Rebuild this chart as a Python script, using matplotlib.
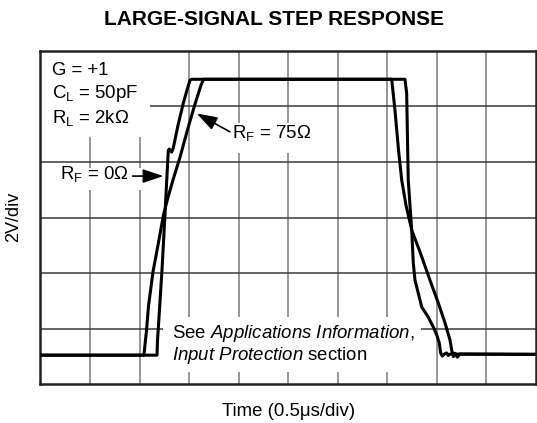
import matplotlib.pyplot as plt
from matplotlib.patches import Rectangle
import numpy as np

plt.rcParams['font.family'] = ['Liberation Sans', 'DejaVu Sans']
plt.rcParams['mathtext.fontset'] = 'custom'
plt.rcParams['mathtext.rm'] = 'Liberation Sans'
plt.rcParams['mathtext.it'] = 'Liberation Sans:italic'

# time in us, output in V (0.5us/div, 2V/div)
t_rf0 = [0.0, 1.176, 1.181, 1.189, 1.226, 1.256, 1.274, 1.290, 1.300, 1.324, 1.340,
         1.388, 1.441, 1.478, 1.509, 1.526, 3.678, 3.695, 3.711, 3.746, 3.762,
         3.779, 3.812, 3.847, 3.913, 3.964, 3.998, 4.024, 4.038, 4.055, 4.075,
         4.099, 4.115, 4.132, 5.0]
v_rf0 = [-4.95, -4.95, -4.40, -3.97, -1.89, 0.09, 1.35, 2.42, 2.46, 2.35, 2.50,
         3.32, 4.11, 4.58, 4.94, 4.97, 4.97, 4.47, 1.35, -0.45, -1.64,
         -2.25, -2.72, -3.22, -3.58, -3.94, -4.22, -4.51, -4.87, -4.98, -4.91,
         -4.87, -4.96, -4.91, -4.92]

t_rf75 = [0.0, 1.044, 1.070, 1.090, 1.135, 1.186, 1.241, 1.287, 1.337, 1.408,
          1.488, 1.559, 1.620, 1.645, 3.544, 3.577, 3.613, 3.645, 3.688, 3.746,
          3.830, 3.930, 4.014, 4.082, 4.132, 4.149, 4.166, 4.183, 4.206, 4.233, 5.0]
v_rf75 = [-4.95, -4.95, -4.05, -3.18, -1.96, -0.99, 0.09, 0.73, 1.35, 2.17,
          3.21, 4.08, 4.76, 4.97, 4.97, 3.86, 2.42, 1.35, 0.45, -0.45,
          -1.24, -2.25, -3.07, -3.79, -4.40, -4.76, -5.00, -4.88, -5.02, -4.91, -4.92]

fig = plt.figure(figsize=(5.37, 4.23), dpi=100)
ax = fig.add_axes([0.0754, 0.0913, 0.9227, 0.789])

ax.set_xlim(0, 5)
ax.set_ylim(-6, 6)
ax.set_xticks(np.arange(0.5, 5, 0.5))
ax.set_yticks(np.arange(-4, 6, 2))
ax.tick_params(length=0, labelbottom=False, labelleft=False)
ax.xaxis.grid(True, color='#7a7a7a', lw=1.1, zorder=1)
ax.yaxis.grid(True, color='#3a3a3a', lw=1.1, zorder=1)
ax.set_axisbelow(True)
for s in ax.spines.values():
    s.set_linewidth(1.8)
    s.set_color('#222222')

# white patches behind the labels (they break the grid)
for x0, y0, w, h in [(0.0, 0.741, 0.221, 0.259),
                     (0.012, 0.582, 0.25, 0.066),
                     (0.378, 0.692, 0.15, 0.09),
                     (0.2472, 0.037, 0.521, 0.165)]:
    ax.add_patch(Rectangle((x0, y0), w, h, transform=ax.transAxes,
                           facecolor='white', edgecolor='none', zorder=1.5))

ax.plot(t_rf0, v_rf0, color='black', lw=2.2, zorder=3)
ax.plot(t_rf75, v_rf75, color='black', lw=2.2, zorder=3)

fs = 13.4
ax.text(0.0226, 0.9266, 'G = +1', transform=ax.transAxes, fontsize=fs, zorder=4)
ax.text(0.0226, 0.8568, r'C$_\mathregular{L}$ = 50pF', transform=ax.transAxes,
        fontsize=fs, zorder=4)
ax.text(0.0226, 0.782, r'R$_\mathregular{L}$ = 2kΩ', transform=ax.transAxes,
        fontsize=fs, zorder=4)
ax.text(0.0394, 0.614, r'R$_\mathregular{F}$ = 0Ω', transform=ax.transAxes,
        fontsize=fs, zorder=4)
ax.text(1.932, 2.855, r'R$_\mathregular{F}$ = 75Ω', fontsize=fs, zorder=4)

arrow = dict(arrowstyle='-|>,head_length=0.9,head_width=0.3', color='black',
             lw=1.2, shrinkA=0, shrinkB=0, mutation_scale=14)
ax.annotate('', xy=(1.241, 1.49), xytext=(0.93, 1.49), arrowprops=arrow, zorder=4)
ax.annotate('', xy=(1.576, 3.74), xytext=(1.912, 3.08), arrowprops=arrow, zorder=4)

ax.text(0.2648, 0.138, r'See $\mathit{Applications\ Information}$,',
        transform=ax.transAxes, fontsize=fs, zorder=4)
ax.text(0.2648, 0.073, r'$\mathit{Input\ Protection}$ section',
        transform=ax.transAxes, fontsize=fs, zorder=4)

fig.text(0.51, 0.953, 'LARGE-SIGNAL STEP RESPONSE', ha='center', va='center',
         fontsize=15, fontweight='bold')
fig.text(0.537, 0.028, 'Time (0.5μs/div)', ha='center', va='center', fontsize=13.4)
fig.text(0.026, 0.487, '2V/div', ha='center', va='center', rotation=90, fontsize=13)

fig.savefig('out.png', dpi=100)
